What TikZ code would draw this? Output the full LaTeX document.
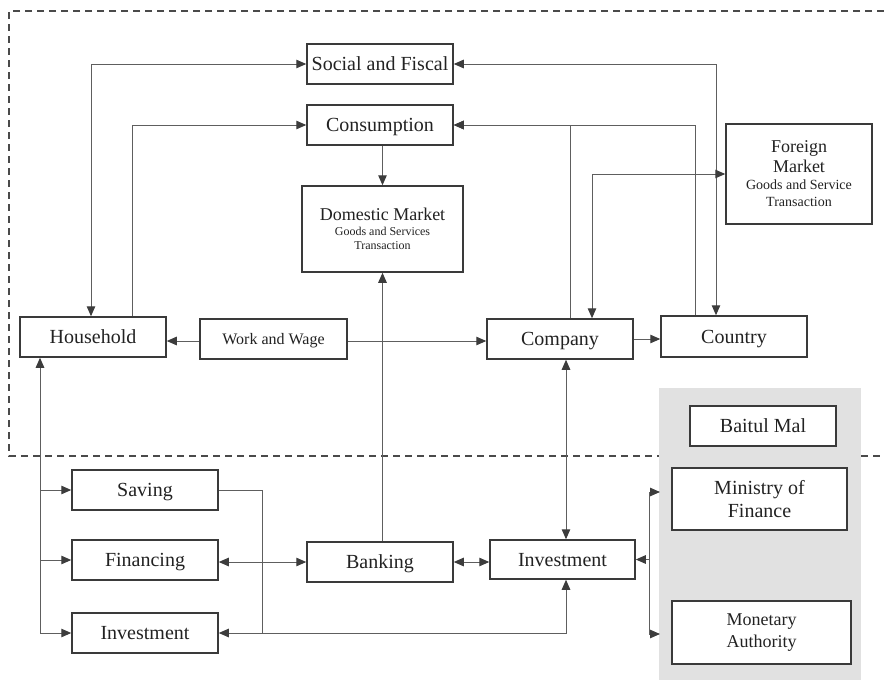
\documentclass[tikz,border=0pt]{standalone}
\usepackage{fontspec}
\setmainfont{Liberation Serif}
\usetikzlibrary{arrows.meta}
\definecolor{boxc}{HTML}{3A3A3A}
\definecolor{linkc}{HTML}{5E5E5E}
\definecolor{tipc}{HTML}{3C3C3C}
\definecolor{framec}{HTML}{4A4A4A}
\definecolor{panelc}{HTML}{E1E1E1}
\definecolor{textc}{HTML}{222222}
\tikzset{
  box/.style={draw=boxc, line width=1.5pt, fill=white, inner sep=0pt,
    text=textc, minimum width=146pt, minimum height=40pt},
  big/.style={font=\fontsize{20pt}{23pt}\selectfont, text height=13.2pt, text depth=0pt},
  multi/.style={align=center},
  link/.style={draw=linkc, line width=1pt,
    >={Triangle[length=10pt,width=8.5pt,color=tipc]}},
  frame/.style={draw=framec, line width=1.6pt, dash pattern=on 7pt off 5pt}
}
\begin{document}
\begin{tikzpicture}[x=1pt,y=-1pt]
\useasboundingbox (0,0) rectangle (884,680);

% dashed boundary of the real sector, open on the right
\draw[frame] (884,11) -- (9,11) -- (9,456) -- (884,456);

% grey panel holding the public institutions
\node[fill=panelc, inner sep=0pt, minimum width=202pt, minimum height=292pt] (panel) at (760,534) {};

% upper nodes
\node[box,big] (sf) at (380,64) {Social and Fiscal};
\node[box,big] (cons) at (380,125) {Consumption};
\node[box,multi,minimum width=161pt,minimum height=86pt,
      font=\fontsize{18pt}{16pt}\selectfont] (dom) at (382.5,229)
  {Domestic Market\\[-1pt]{\fontsize{12pt}{14pt}\selectfont Goods and Services}\\[-2pt]{\fontsize{12pt}{14pt}\selectfont Transaction}};
\node[box,multi,minimum width=146pt,minimum height=100pt,
      font=\fontsize{18pt}{21pt}\selectfont] (fm) at (799,174)
  {Foreign\\[-1pt]Market\\[-4pt]{\fontsize{14pt}{15pt}\selectfont Goods and Service}\\[-4pt]{\fontsize{14pt}{15pt}\selectfont Transaction}};

% middle row
\node[box,big] (hh) at (93,337) {Household};
\node[box,minimum width=147pt,font=\fontsize{16pt}{19pt}\selectfont,
      text height=10.6pt,text depth=0pt] (ww) at (273.5,339) {Work and Wage};
\node[box,big] (comp) at (560,339) {Company};
\node[box,big,minimum height=41pt] (ctry) at (734,336.5) {Country};

% panel boxes
\node[box,big] (bm) at (763,426) {Baitul Mal};
\node[box,multi,minimum width=175pt,minimum height=62pt,
      font=\fontsize{20pt}{23pt}\selectfont] (mof) at (759.5,499) {Ministry of\\Finance};
\node[box,multi,minimum width=179pt,minimum height=63pt,
      font=\fontsize{18pt}{22pt}\selectfont] (ma) at (761.5,632.5) {Monetary\\Authority};

% lower left and centre
\node[box,big] (sav) at (145,490) {Saving};
\node[box,big] (fin) at (145,560) {Financing};
\node[box,big] (invl) at (145,633) {Investment};
\node[box,big] (bank) at (380,562) {Banking};
\node[box,big,minimum width=145pt,minimum height=39pt] (invm) at (562.5,559.5) {Investment};

% guide columns and rows for the orthogonal connectors
\coordinate (g1) at (91,0);
\coordinate (g2) at (132,0);
\coordinate (g3) at (716,0);
\coordinate (g4) at (570,0);
\coordinate (g5) at (695,0);
\coordinate (g6) at (592,0);
\coordinate (g7) at (40,0);
\coordinate (g8) at (262,0);
\coordinate (g9) at (566,0);
\coordinate (g10) at (649,0);
\coordinate (rw) at (0,341);
\coordinate (t1) at (660,492);
\coordinate (t2) at (660,634);

% upper connectors
\draw[link,<->] (hh.north -| g1) |- (sf.west);
\draw[link,->] (hh.north -| g2) |- (cons.west);
\draw[link,->] (cons.south -| dom) -- (dom.north);
\draw[link,<->] (sf.east) -| (ctry.north -| g3);
\draw[link,->] (comp.north -| g4) |- (cons.east);
\draw[link,->] (ctry.north -| g5) |- (cons.east);
\draw[link,<->] (fm.west) -| (comp.north -| g6);

% middle row connectors
\draw[link,->] (ww.west |- rw) -- (hh.east |- rw);
\draw[link,->] (ww.east |- rw) -- (comp.west |- rw);
\draw[link,->] (comp.east) -- (ctry.west |- comp.east);
\draw[link,->] (bank.north -| dom) -- (dom.south);

% household to its financial choices
\draw[link,<-] (hh.south -| g7) -- (invl.west -| g7);
\draw[link,->] (sav.west -| g7) -- (sav.west);
\draw[link,->] (fin.west -| g7) -- (fin.west);
\draw[link,->] (invl.west -| g7) -- (invl.west);

% savings, financing and investment channels
\draw[link] (sav.east) -| (invl.east -| g8);
\draw[link,<->] (fin.east |- bank.west) -- (bank.west);
\draw[link,<->] (invl.east) -| (invm.south -| g9);
\draw[link,<->] (bank.east) -- (invm.west |- bank.east);
\draw[link,<->] (comp.south -| g9) -- (invm.north -| g9);

% investment to public institutions
\draw[link,<-] (invm.east) -- (invm.east -| g10);
\draw[link,<->] (t1) -- (t1 -| g10) -- (t2 -| g10) -- (t2);
\end{tikzpicture}
\end{document}
